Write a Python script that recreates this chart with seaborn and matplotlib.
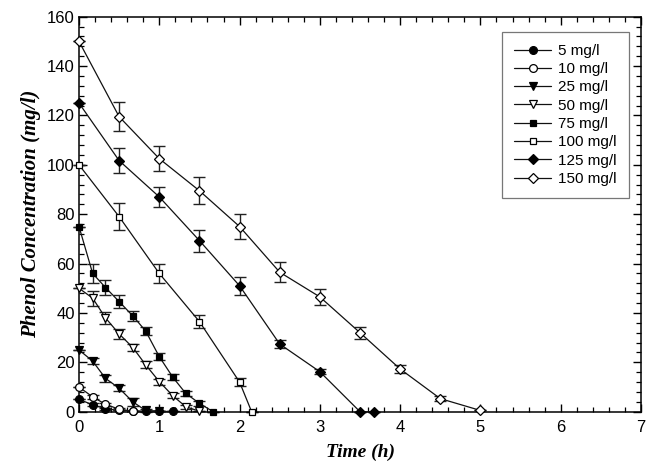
import numpy as np
import pandas as pd
import matplotlib
matplotlib.use("Agg")
import matplotlib.pyplot as plt
from matplotlib.ticker import MultipleLocator
import seaborn as sns

# ---- data ----
labels = ["5 mg/l", "10 mg/l", "25 mg/l", "50 mg/l", "75 mg/l", "100 mg/l", "125 mg/l", "150 mg/l"]

t_5 = [0, 0.17, 0.33, 0.5, 0.67, 0.83, 1.0, 1.17]
c_5 = [5, 2.8, 1.2, 0.5, 0.3, 0.2, 0.1, 0.1]
e_5 = [0, 0.6, 0.4, 0, 0, 0, 0, 0]

t_10 = [0, 0.17, 0.33, 0.5, 0.67]
c_10 = [10, 6, 3, 1, 0.2]
e_10 = [0, 0.8, 0.6, 0.3, 0]

t_25 = [0, 0.17, 0.33, 0.5, 0.67, 0.83, 1.0]
c_25 = [25, 20.5, 13.5, 9.5, 4, 0.5, 0.2]
e_25 = [0, 1.2, 1.5, 1.2, 1.5, 0.5, 0]

t_50 = [0, 0.17, 0.33, 0.5, 0.67, 0.83, 1.0, 1.17, 1.33, 1.5]
c_50 = [50, 46, 38, 31.5, 26, 19, 12.2, 6.4, 2, 0.2]
e_50 = [0, 3, 2.5, 2, 1.5, 1.5, 1.2, 1, 0.8, 0]

t_75 = [0, 0.17, 0.33, 0.5, 0.67, 0.83, 1.0, 1.17, 1.33, 1.5, 1.67]
c_75 = [75, 56, 50.3, 44.6, 38.8, 32.7, 22.3, 13.9, 7.4, 3.4, 0]
e_75 = [0, 3.7, 3, 2.7, 2, 1.8, 1.5, 1.2, 1, 1, 0]

t_100 = [0, 0.5, 1.0, 1.5, 2.0, 2.15]
c_100 = [100, 79, 56, 36.5, 12, 0]
e_100 = [0, 5.4, 4, 2.5, 1.5, 0]

t_125 = [0, 0.5, 1.0, 1.5, 2.0, 2.5, 3.0, 3.5, 3.67]
c_125 = [125, 101.7, 87, 69.3, 51, 27.4, 16.2, 0, 0]
e_125 = [0, 5, 4, 4.5, 3.6, 1.5, 1, 0, 0]

t_150 = [0, 0.5, 1.0, 1.5, 2.0, 2.5, 3.0, 3.5, 4.0, 4.5, 5.0]
c_150 = [150, 119.5, 102.5, 89.5, 75, 56.5, 46.5, 32, 17.3, 5.3, 0.5]
e_150 = [0, 6, 5, 5.4, 5, 4, 3.2, 2.5, 1.5, 1, 0]

times = [t_5, t_10, t_25, t_50, t_75, t_100, t_125, t_150]
concs = [c_5, c_10, c_25, c_50, c_75, c_100, c_125, c_150]
errs = [e_5, e_10, e_25, e_50, e_75, e_100, e_125, e_150]

x_ticks = [0, 1, 2, 3, 4, 5, 6, 7]
y_ticks = [0, 20, 40, 60, 80, 100, 120, 140, 160]

# ---- styles ----
markers = ["o", "o", "v", "v", "s", "s", "D", "D"]
faces = ["black", "white", "black", "white", "black", "white", "black", "white"]
msizes = [5.6, 5.6, 5.8, 5.8, 5.0, 5.0, 5.4, 5.4]

sns.set_style("ticks")
plt.rcParams["font.family"] = ["Liberation Sans", "DejaVu Sans"]
plt.rcParams.update({"text.color": "black", "axes.labelcolor": "black",
                     "xtick.color": "black", "ytick.color": "black",
                     "xtick.labelcolor": "black", "ytick.labelcolor": "black"})

fig = plt.figure(figsize=(6.47, 4.71), dpi=100)
ax = fig.add_axes([79 / 647, 1 - 411.7 / 471, 562 / 647, 395 / 471])

for t, c, e, lab, m, fc, ms in zip(times, concs, errs, labels, markers, faces, msizes):
    df = pd.DataFrame({"Time": t, "Conc": c, "Err": e})
    ax.errorbar(df["Time"], df["Conc"], yerr=df["Err"], fmt="none", ecolor="#222222",
                elinewidth=1.0, capsize=4.5, capthick=1.0, zorder=2, clip_on=False)
    sns.lineplot(data=df, x="Time", y="Conc", ax=ax, color="#111111", linewidth=0.9,
                 marker=m, markersize=ms, markerfacecolor=fc, markeredgecolor="black",
                 markeredgewidth=0.9, label=lab, clip_on=False, zorder=3,
                 errorbar=None)

ax.set_xlim(0, 7)
ax.set_ylim(0, 160)
ax.set_xticks(x_ticks)
ax.set_yticks(y_ticks)
ax.xaxis.set_minor_locator(MultipleLocator(0.2))
ax.yaxis.set_minor_locator(MultipleLocator(4))
ax.tick_params(which="both", direction="in", top=True, right=True, color="black",
               labelcolor="black")
ax.tick_params(which="major", length=6, width=1.0, labelsize=12)
ax.tick_params(which="minor", length=3.5, width=0.9)
ax.tick_params(axis="x", which="major", pad=6)
ax.tick_params(axis="y", which="major", pad=3)
for sp in ax.spines.values():
    sp.set_visible(True)
    sp.set_color("black")
    sp.set_linewidth(1.1)

lab_font = dict(family=["Liberation Serif", "DejaVu Serif"], weight="bold", style="italic",
                color="black")
ax.set_xlabel("Time (h)", fontsize=14, labelpad=6, **lab_font)
ax.set_ylabel("Phenol Concentration (mg/l)", fontsize=15, labelpad=4, **lab_font)

leg = ax.legend(loc="upper right", bbox_to_anchor=(0.979, 0.962), borderaxespad=0,
                fontsize=11, frameon=True, fancybox=False, edgecolor="#555555",
                labelspacing=0.28, handlelength=2.4, handletextpad=0.5,
                borderpad=0.8, labelcolor="black")
leg.get_frame().set_linewidth(0.9)

fig.savefig("out.png", dpi=100)
